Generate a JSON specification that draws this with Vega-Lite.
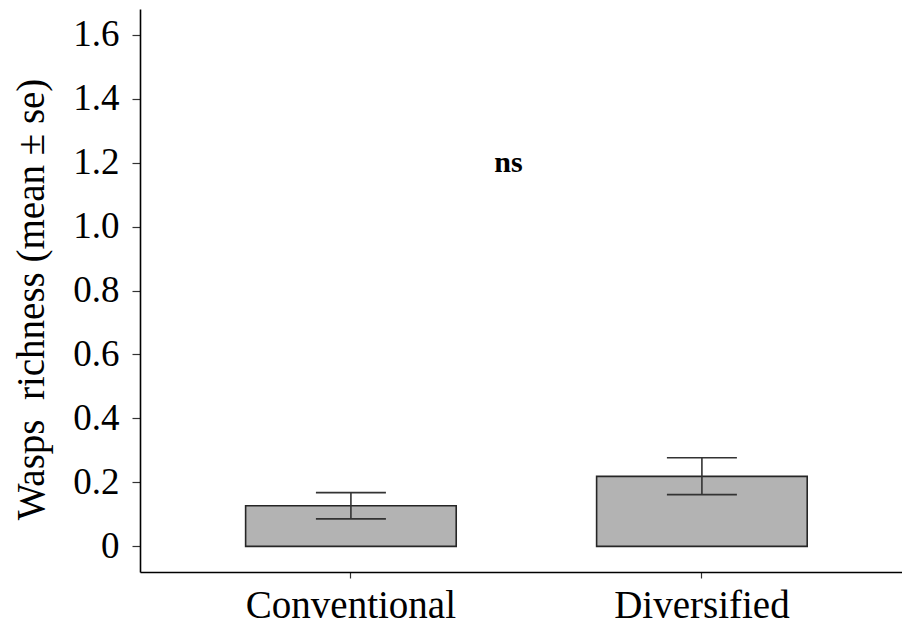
{
  "$schema": "https://vega.github.io/schema/vega-lite/v6.json",
  "autosize": "none",
  "width": 762,
  "height": 563,
  "padding": {"left": 140, "top": 9, "right": 0, "bottom": 55},
  "background": "white",
  "config": {
    "view": {"stroke": null},
    "font": "Liberation Serif"
  },
  "datasets": {
    "richness": [
      {"system": "Conventional", "mean": 0.127, "lower": 0.086, "upper": 0.168},
      {"system": "Diversified", "mean": 0.219, "lower": 0.162, "upper": 0.277}
    ],
    "signif": [
      {"pos": 1.45, "y": 1.2, "label": "ns"}
    ]
  },
  "resolve": {"scale": {"x": "independent"}},
  "layer": [
    {
      "layer": [
        {
          "data": {"name": "richness"},
          "mark": {"type": "bar", "fill": "#b3b3b3", "stroke": "#262626", "strokeWidth": 1.6},
          "encoding": {
            "x": {
              "field": "system",
              "type": "nominal",
              "sort": null,
              "scale": {"paddingInner": 0.4, "paddingOuter": 0.2855, "align": 0.527},
              "axis": {
                "title": null,
                "labelAngle": 0,
                "labelLimit": 0,
                "labelFontSize": 39,
                "labelColor": "black",
                "labelFont": "Liberation Serif",
                "labelPadding": 8,
                "tickSize": 6,
                "tickColor": "#333333",
                "tickWidth": 1.2,
                "domainColor": "black",
                "domainWidth": 1.6
              }
            },
            "y": {
              "field": "mean",
              "type": "quantitative",
              "scale": {"domain": [-0.08, 1.68], "nice": false, "zero": false},
              "axis": {
                "title": "Wasps\u00a0\u00a0richness (mean ± se)",
                "titleFont": "Liberation Serif",
                "titleFontSize": 39,
                "titleFontWeight": "normal",
                "titleColor": "black",
                "titleX": -97,
                "titleY": 290,
                "titleBaseline": "alphabetic",
                "titleAngle": 270,
                "titleAnchor": "middle",
                "titleLimit": 0,
                "values": [0, 0.2, 0.4, 0.6, 0.8, 1.0, 1.2, 1.4, 1.6],
                "labelExpr": "datum.value == 0 ? '0' : format(datum.value, '.1f')",
                "labelFontSize": 37,
                "labelColor": "black",
                "labelFont": "Liberation Serif",
                "labelPadding": 13,
                "tickSize": 8,
                "tickColor": "#333333",
                "tickWidth": 1.2,
                "domainColor": "black",
                "domainWidth": 1.6,
                "grid": false
              }
            },
            "y2": {"datum": 0}
          }
        },
        {
          "data": {"name": "richness"},
          "mark": {"type": "rule", "color": "#333333", "strokeWidth": 1.6},
          "encoding": {
            "x": {"field": "system", "type": "nominal", "sort": null},
            "y": {"field": "lower", "type": "quantitative"},
            "y2": {"field": "upper"}
          }
        },
        {
          "data": {"name": "richness"},
          "mark": {"type": "tick", "color": "#333333", "thickness": 1.6, "size": 70, "opacity": 1},
          "encoding": {
            "x": {"field": "system", "type": "nominal", "sort": null},
            "y": {"field": "lower", "type": "quantitative"}
          }
        },
        {
          "data": {"name": "richness"},
          "mark": {"type": "tick", "color": "#333333", "thickness": 1.6, "size": 70, "opacity": 1},
          "encoding": {
            "x": {"field": "system", "type": "nominal", "sort": null},
            "y": {"field": "upper", "type": "quantitative"}
          }
        }
      ]
    },
    {
      "data": {"name": "signif"},
      "mark": {"type": "text", "font": "Liberation Serif", "fontWeight": "bold", "fontSize": 30, "baseline": "middle", "align": "center", "color": "black"},
      "encoding": {
        "x": {"field": "pos", "type": "quantitative", "scale": {"domain": [0.4, 2.571], "nice": false, "zero": false}, "axis": null},
        "y": {"field": "y", "type": "quantitative"},
        "text": {"field": "label"}
      }
    }
  ]
}
